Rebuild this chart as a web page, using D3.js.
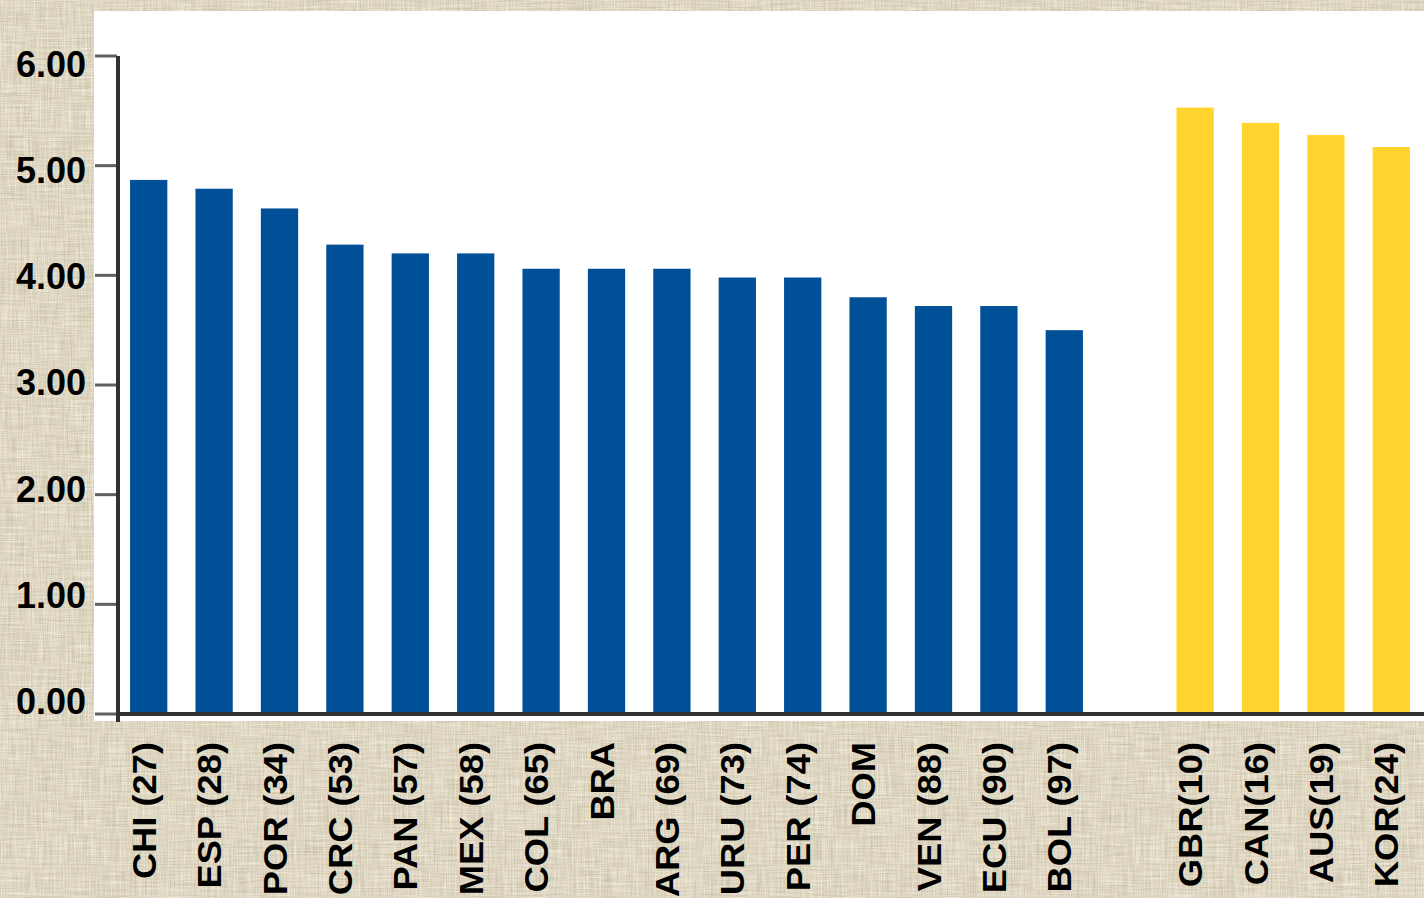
<!DOCTYPE html>
<html>
<head>
<meta charset="utf-8">
<script src="https://cdn.jsdelivr.net/npm/d3@7"></script>
<style>
  body { margin: 0; background: #ddd4c1; }
  svg { display: block; }
</style>
</head>
<body>
<div id="chart"></div>
<script>
// data
var latinCountries = ["CHI (27)", "ESP (28)", "POR (34)", "CRC (53)", "PAN (57)", "MEX (58)", "COL (65)", "BRA",
  "ARG (69)", "URU (73)", "PER (74)", "DOM", "VEN (88)", "ECU (90)", "BOL (97)"];
var latinValues = [4.87, 4.79, 4.61, 4.28, 4.20, 4.20, 4.06, 4.06, 4.06, 3.98, 3.98, 3.80, 3.72, 3.72, 3.50];
var otherCountries = ["GBR(10)", "CAN(16)", "AUS(19)", "KOR(24)"];
var otherValues = [5.53, 5.39, 5.28, 5.17];
var yTicks = [0, 1, 2, 3, 4, 5, 6];

var W = 1424, H = 898;

var svg = d3.select("#chart").append("svg")
  .attr("width", W).attr("height", H);

// parchment texture: horizontal + vertical streak noise
var defs = svg.append("defs");
var f = defs.append("filter").attr("id", "paper")
  .attr("x", 0).attr("y", 0).attr("width", "100%").attr("height", "100%")
  .attr("color-interpolation-filters", "sRGB");
f.append("feTurbulence").attr("type", "fractalNoise")
  .attr("baseFrequency", "0.7 0.03").attr("numOctaves", 3).attr("seed", 3).attr("result", "n1");
f.append("feTurbulence").attr("type", "fractalNoise")
  .attr("baseFrequency", "0.03 0.7").attr("numOctaves", 3).attr("seed", 7).attr("result", "n2");
f.append("feComposite").attr("in", "n1").attr("in2", "n2")
  .attr("operator", "arithmetic").attr("k1", 0).attr("k2", 0.5).attr("k3", 0.5).attr("k4", 0)
  .attr("result", "n");
f.append("feColorMatrix").attr("in", "n").attr("type", "matrix")
  .attr("values", "0.32 0 0 0 0.71  0.32 0 0 0 0.68  0.38 0 0 0 0.57  0 0 0 0 1");
svg.append("rect").attr("width", W).attr("height", H).attr("fill", "#ddd4c1");
svg.append("rect").attr("width", W).attr("height", H).attr("filter", "url(#paper)");

// white plot panel
svg.append("rect")
  .attr("x", 94).attr("y", 11)
  .attr("width", W - 94).attr("height", 710)
  .attr("fill", "#ffffff");

// scales
var categories = latinCountries.concat([""], otherCountries);
var x = d3.scaleBand()
  .domain(categories)
  .range([116, W])
  .paddingInner(0.43)
  .paddingOuter(0.215);

var y = d3.scaleLinear()
  .domain([0, 6])
  .range([714, 56]);

// tick labels in the original sit a little off the ticks
var yLabel = d3.scaleLinear()
  .domain([0, 6])
  .range([701, 64]);

var rows = latinCountries.map(function (c, i) { return { name: c, value: latinValues[i], color: "#005098" }; })
  .concat(otherCountries.map(function (c, i) { return { name: c, value: otherValues[i], color: "#ffd42e" }; }));

// bars
svg.selectAll("rect.bar")
  .data(rows)
  .enter()
  .append("rect")
  .attr("class", "bar")
  .attr("x", function (d) { return x(d.name); })
  .attr("width", x.bandwidth())
  .attr("y", function (d) { return y(d.value); })
  .attr("height", function (d) { return y(0) - y(d.value); })
  .attr("fill", function (d) { return d.color; });

// y axis ticks
svg.selectAll("line.ytick")
  .data(yTicks)
  .enter()
  .append("line")
  .attr("class", "ytick")
  .attr("x1", 95).attr("x2", 117)
  .attr("y1", function (d) { return y(d); })
  .attr("y2", function (d) { return y(d); })
  .attr("stroke", "#606060")
  .attr("stroke-width", 3);

svg.selectAll("text.ylab")
  .data(yTicks)
  .enter()
  .append("text")
  .attr("class", "ylab")
  .attr("x", 86)
  .attr("y", function (d) { return yLabel(d); })
  .attr("dy", "0.36em")
  .attr("text-anchor", "end")
  .style("font-family", "Liberation Sans, Arial, sans-serif")
  .style("font-weight", "bold")
  .style("font-size", "36px")
  .attr("fill", "#000")
  .text(function (d) { return d3.format(".2f")(d); });

// axis lines
svg.append("line")
  .attr("x1", 118).attr("x2", 118)
  .attr("y1", y(6)).attr("y2", 722)
  .attr("stroke", "#333031").attr("stroke-width", 4);
svg.append("line")
  .attr("x1", 116).attr("x2", W)
  .attr("y1", y(0)).attr("y2", y(0))
  .attr("stroke", "#333031").attr("stroke-width", 4);

// x labels, rotated
svg.selectAll("text.xlab")
  .data(rows)
  .enter()
  .append("text")
  .attr("class", "xlab")
  .attr("transform", function (d) {
    return "translate(" + (x(d.name) + x.bandwidth() / 2 + 7) + ",742) rotate(-90) scale(1.1,1)";
  })
  .attr("text-anchor", "end")
  .style("font-family", "Liberation Sans, Arial, sans-serif")
  .style("font-weight", "bold")
  .style("font-size", "33px")
  .attr("fill", "#000")
  .text(function (d) { return d.name; });
</script>
</body>
</html>
